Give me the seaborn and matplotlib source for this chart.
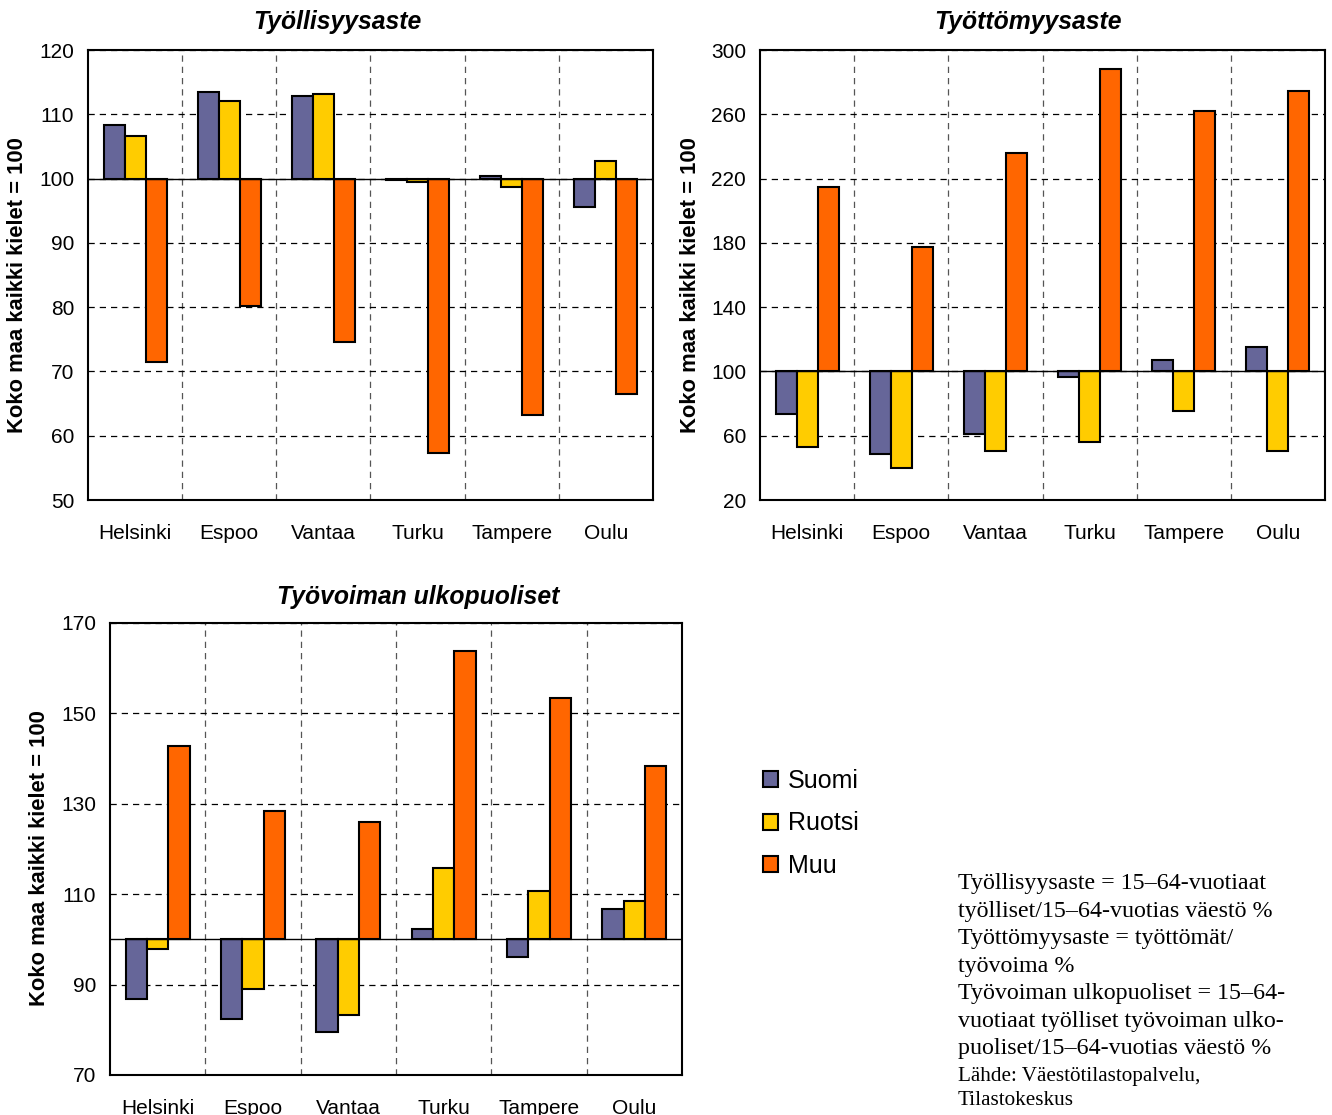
import seaborn as sns
import matplotlib.pyplot as plt
import pandas as pd
from matplotlib.patches import Patch
from matplotlib.ticker import FuncFormatter

W, H = 1332, 1115

KAUPUNGIT = ["Helsinki", "Espoo", "Vantaa", "Turku", "Tampere", "Oulu"]
KIELET = ["Suomi", "Ruotsi", "Muu"]
VARIT = ["#666699", "#FFCC00", "#FF6600"]

# Koko maa kaikki kielet = 100
TYOLLISYYS_SUOMI = [108.4, 113.5, 112.8, 99.7, 100.4, 95.6]
TYOLLISYYS_RUOTSI = [106.6, 112.0, 113.2, 99.4, 98.7, 102.8]
TYOLLISYYS_MUU = [71.4, 80.2, 74.6, 57.3, 63.3, 66.5]

TYOTTOMYYS_SUOMI = [73.7, 48.8, 61.0, 96.3, 107.3, 114.9]
TYOTTOMYYS_RUOTSI = [52.7, 40.2, 50.2, 56.4, 75.1, 50.2]
TYOTTOMYYS_MUU = [214.5, 177.2, 235.7, 288.0, 262.0, 274.3]

ULKOPUOLISET_SUOMI = [86.9, 82.4, 79.6, 102.3, 96.1, 106.7]
ULKOPUOLISET_RUOTSI = [97.9, 89.0, 83.3, 115.7, 110.7, 108.5]
ULKOPUOLISET_MUU = [142.8, 128.5, 125.9, 163.7, 153.5, 138.3]

TYOLLISYYS_TICKS = [50, 60, 70, 80, 90, 100, 110, 120]
TYOTTOMYYS_TICKS = [20, 60, 100, 140, 180, 220, 260, 300]
ULKOPUOLISET_TICKS = [70, 90, 110, 130, 150, 170]

YLABEL = "Koko maa kaikki kielet = 100"
SELITE = ("Työllisyysaste = 15–64-vuotiaat\n"
          "työlliset/15–64-vuotias väestö %\n"
          "Työttömyysaste = työttömät/\n"
          "työvoima %\n"
          "Työvoiman ulkopuoliset = 15–64-\n"
          "vuotiaat työlliset työvoiman ulko-\n"
          "puoliset/15–64-vuotias väestö %")
LAHDE = "Lähde: Väestötilastopalvelu,\nTilastokeskus"

sns.set_style("white")
plt.rcParams['font.family'] = ['Liberation Sans', 'DejaVu Sans']
plt.rcParams.update({"text.color": "black", "axes.labelcolor": "black",
                     "xtick.color": "black", "ytick.color": "black"})


def make_df(suomi, ruotsi, muu):
    """Long format, bars are drawn as deviation from the base 100."""
    rows = []
    for kieli, arvot in zip(KIELET, [suomi, ruotsi, muu]):
        for kaupunki, arvo in zip(KAUPUNGIT, arvot):
            rows.append({"kaupunki": kaupunki, "kieli": kieli, "ero": arvo - 100})
    return pd.DataFrame(rows)


def axes_px(left, top, right, bottom):
    return [left / W, 1 - bottom / H, (right - left) / W, (bottom - top) / H]


def plot_panel(ax, df, ticks):
    sns.barplot(data=df, x="kaupunki", y="ero", hue="kieli", order=KAUPUNGIT,
                hue_order=KIELET, palette=VARIT, edgecolor="black",
                linewidth=1.5, width=0.67, saturation=1, legend=False, ax=ax)
    ax.axhline(0, color="black", lw=1, zorder=3)
    ax.set_ylim(ticks[0] - 100, ticks[-1] - 100)
    ax.set_xlim(-0.5, len(KAUPUNGIT) - 0.5)
    ax.set_yticks([t - 100 for t in ticks])
    ax.yaxis.set_major_formatter(FuncFormatter(lambda v, p: f"{v + 100:.0f}"))
    ax.set_xticks([i + 0.5 for i in range(len(KAUPUNGIT) - 1)], minor=True)
    ax.set_xlabel("")
    ax.set_ylabel("")
    ax.set_axisbelow(True)
    ax.grid(axis="y", which="major", color="black", ls=(0, (5, 4)), lw=0.9)
    ax.grid(axis="x", which="minor", color="#555555", ls=(0, (5, 4)), lw=0.9)
    ax.grid(axis="x", which="major", visible=False)
    ax.tick_params(axis="y", labelsize=15, length=5, width=1, pad=5)
    ax.tick_params(axis="x", which="major", labelsize=15, length=0, pad=17)
    ax.tick_params(axis="x", which="minor", direction="in", length=4)
    for s in ax.spines.values():
        s.set_color("black")
        s.set_linewidth(1.5)


fig = plt.figure(figsize=(W / 100, H / 100), dpi=100)

ax1 = fig.add_axes(axes_px(88, 50, 653, 500))
plot_panel(ax1, make_df(TYOLLISYYS_SUOMI, TYOLLISYYS_RUOTSI, TYOLLISYYS_MUU),
           TYOLLISYYS_TICKS)
ax2 = fig.add_axes(axes_px(760, 50, 1325, 500))
plot_panel(ax2, make_df(TYOTTOMYYS_SUOMI, TYOTTOMYYS_RUOTSI, TYOTTOMYYS_MUU),
           TYOTTOMYYS_TICKS)
ax3 = fig.add_axes(axes_px(110, 623, 682, 1075))
plot_panel(ax3, make_df(ULKOPUOLISET_SUOMI, ULKOPUOLISET_RUOTSI, ULKOPUOLISET_MUU),
           ULKOPUOLISET_TICKS)

title_kw = dict(fontsize=17.8, fontweight="bold", fontstyle="italic",
                ha="center", va="center")
fig.text(337 / W, 1 - 22 / H, "Työllisyysaste", **title_kw)
fig.text(1028 / W, 1 - 22 / H, "Työttömyysaste", **title_kw)
fig.text(418 / W, 1 - 597 / H, "Työvoiman ulkopuoliset", **title_kw)

ylab_kw = dict(fontsize=15.8, fontweight="bold", rotation=90,
               ha="center", va="center")
fig.text(18 / W, 1 - 285 / H, YLABEL, **ylab_kw)
fig.text(690 / W, 1 - 285 / H, YLABEL, **ylab_kw)
fig.text(40 / W, 1 - 858 / H, YLABEL, **ylab_kw)

handles = [Patch(facecolor=c, edgecolor="black", linewidth=1.5) for c in VARIT]
fig.legend(handles, KIELET, loc="upper left", bbox_to_anchor=(763 / W, 1 - 769 / H),
           frameon=False, fontsize=18, handlelength=0.6, handleheight=0.6,
           handletextpad=0.4, labelspacing=0.74, borderpad=0, borderaxespad=0)

fig.text(958 / W, 1 - 873 / H, SELITE, family="Liberation Serif", fontsize=17.3,
         ha="left", va="top", linespacing=1.41)
fig.text(958 / W, 1 - 1067 / H, LAHDE, family="Liberation Serif", fontsize=15.2,
         ha="left", va="top", linespacing=1.33)

fig.savefig("out.png", dpi=100)
